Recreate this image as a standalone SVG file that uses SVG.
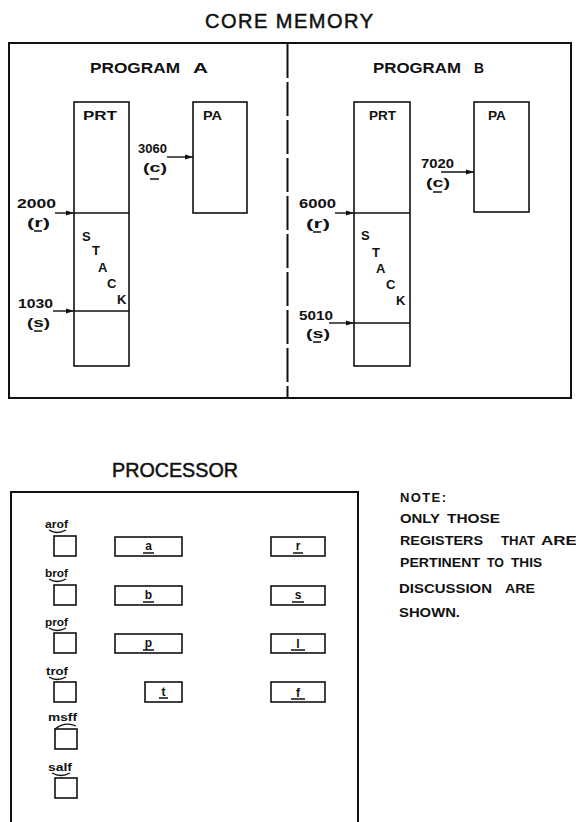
<svg xmlns="http://www.w3.org/2000/svg" width="576" height="822" viewBox="0 0 576 822">
<style>
  text { font-family: "Liberation Sans", Arial, sans-serif; fill: #111; }
  .title { font-size: 20px; stroke: #111; stroke-width: 0.5; }
  .h { font-size: 14px; font-weight: bold; }
  .lbl { font-size: 13px; font-weight: bold; }
  .num { font-size: 12px; font-weight: bold; }
  .st { font-size: 13px; font-weight: bold; }
  .flag { font-size: 11px; font-weight: bold; }
  .reg { font-size: 12px; font-weight: bold; }
  .note { font-size: 13px; font-weight: bold; }
  .box { fill: none; stroke: #111; stroke-width: 1.6; }
  .frame { fill: none; stroke: #111; stroke-width: 2; }
  .ul { stroke: #111; stroke-width: 1.5; }
  .arc { fill: none; stroke: #111; stroke-width: 1.3; }
  .conn { stroke: #111; stroke-width: 1.4; fill: none; }
</style>
<defs>
  <marker id="ah" markerUnits="userSpaceOnUse" markerWidth="8" markerHeight="6" refX="8" refY="3" orient="auto">
    <path d="M0,0.6 L8,3 L0,5.4 z" fill="#111"/>
  </marker>
</defs>
<rect width="576" height="822" fill="#fff"/>

<g id="core-memory">
  <text class="title" x="205" y="28" textLength="168" lengthAdjust="spacing">CORE MEMORY</text>
  <rect class="frame" x="9" y="43" width="562" height="355"/>
  <line x1="287.5" y1="44" x2="287.5" y2="397" stroke="#111" stroke-width="2" stroke-dasharray="34 4"/>
</g>

<g id="program-a">
  <text class="h" x="90" y="73" textLength="90" lengthAdjust="spacingAndGlyphs">PROGRAM</text>
  <text class="h" x="193" y="73" textLength="15" lengthAdjust="spacingAndGlyphs">A</text>
</g>
<g id="prt-a">
  <rect class="box" x="74" y="102" width="55" height="264"/>
  <line class="box" x1="74" y1="213" x2="129" y2="213"/>
  <line class="box" x1="74" y1="311" x2="129" y2="311"/>
  <text class="lbl" x="83" y="120" textLength="34" lengthAdjust="spacingAndGlyphs">PRT</text>
  <text class="st" x="82" y="241">S</text>
  <text class="st" x="92" y="255">T</text>
  <text class="st" x="98" y="272">A</text>
  <text class="st" x="107" y="288">C</text>
  <text class="st" x="117" y="304">K</text>
</g>
<g id="pa-a">
  <rect class="box" x="193" y="102" width="54" height="111"/>
  <text class="lbl" x="203" y="120" textLength="19" lengthAdjust="spacingAndGlyphs">PA</text>
</g>
<g id="label-a-r">
  <text class="num" x="17" y="208" textLength="39" lengthAdjust="spacingAndGlyphs">2000</text>
  <text class="num" x="27" y="227" textLength="23" lengthAdjust="spacingAndGlyphs">(r)</text>
  <line class="ul" x1="34" y1="231" x2="42" y2="231"/>
</g>
<g id="label-a-s">
  <text class="num" x="18" y="308" textLength="35" lengthAdjust="spacingAndGlyphs">1030</text>
  <text class="num" x="27" y="327" textLength="23" lengthAdjust="spacingAndGlyphs">(s)</text>
  <line class="ul" x1="34" y1="331" x2="42" y2="331"/>
</g>
<g id="label-a-c">
  <text class="num" x="138" y="153" textLength="29" lengthAdjust="spacingAndGlyphs">3060</text>
  <text class="num" x="143" y="172" textLength="24" lengthAdjust="spacingAndGlyphs">(c)</text>
  <line class="ul" x1="150" y1="179" x2="159" y2="179"/>
</g>

<g id="program-b">
  <text class="h" x="373" y="73" textLength="88" lengthAdjust="spacingAndGlyphs">PROGRAM</text>
  <text class="h" x="474" y="73" textLength="10" lengthAdjust="spacingAndGlyphs">B</text>
</g>
<g id="prt-b">
  <rect class="box" x="354" y="102" width="56" height="264"/>
  <line class="box" x1="354" y1="213" x2="410" y2="213"/>
  <line class="box" x1="354" y1="323" x2="410" y2="323"/>
  <text class="lbl" x="369" y="120" textLength="27" lengthAdjust="spacingAndGlyphs">PRT</text>
  <text class="st" x="361" y="240">S</text>
  <text class="st" x="372" y="257">T</text>
  <text class="st" x="376" y="273">A</text>
  <text class="st" x="386" y="289">C</text>
  <text class="st" x="396" y="305">K</text>
</g>
<g id="pa-b">
  <rect class="box" x="474" y="102" width="55" height="110"/>
  <text class="lbl" x="488" y="120" textLength="18" lengthAdjust="spacingAndGlyphs">PA</text>
</g>
<g id="label-b-r">
  <text class="num" x="299" y="208" textLength="37" lengthAdjust="spacingAndGlyphs">6000</text>
  <text class="num" x="306" y="228" textLength="24" lengthAdjust="spacingAndGlyphs">(r)</text>
  <line class="ul" x1="313" y1="232" x2="321" y2="232"/>
</g>
<g id="label-b-s">
  <text class="num" x="299" y="320" textLength="34" lengthAdjust="spacingAndGlyphs">5010</text>
  <text class="num" x="306" y="338" textLength="24" lengthAdjust="spacingAndGlyphs">(s)</text>
  <line class="ul" x1="313" y1="342" x2="321" y2="342"/>
</g>
<g id="label-b-c">
  <text class="num" x="421" y="168" textLength="33" lengthAdjust="spacingAndGlyphs">7020</text>
  <text class="num" x="426" y="187" textLength="24" lengthAdjust="spacingAndGlyphs">(c)</text>
  <line class="ul" x1="433" y1="192" x2="442" y2="192"/>
</g>

<g id="connectors">
  <line class="conn" x1="55" y1="213" x2="74" y2="213" marker-end="url(#ah)"/>
  <line class="conn" x1="53" y1="311" x2="74" y2="311" marker-end="url(#ah)"/>
  <line class="conn" x1="167" y1="157" x2="193" y2="157" marker-end="url(#ah)"/>
  <line class="conn" x1="335" y1="213" x2="354" y2="213" marker-end="url(#ah)"/>
  <line class="conn" x1="329" y1="323" x2="354" y2="323" marker-end="url(#ah)"/>
  <line class="conn" x1="441" y1="172" x2="474" y2="172" marker-end="url(#ah)"/>
</g>

<g id="processor">
  <text class="title" x="112" y="477" textLength="126" lengthAdjust="spacingAndGlyphs">PROCESSOR</text>
  <path class="frame" d="M11,830 V492 H358 V830"/>
</g>

<g id="flag-arof">
  <text class="flag" x="45" y="528" textLength="23" lengthAdjust="spacingAndGlyphs">arof</text>
  <path class="arc" d="M49,530 Q57,535 66,530"/>
  <rect class="box" x="54" y="536" width="22" height="20"/>
</g>
<g id="flag-brof">
  <text class="flag" x="45" y="577" textLength="23" lengthAdjust="spacingAndGlyphs">brof</text>
  <path class="arc" d="M49,579 Q57,584 66,579"/>
  <rect class="box" x="54" y="585" width="22" height="20"/>
</g>
<g id="flag-prof">
  <text class="flag" x="45" y="626" textLength="23" lengthAdjust="spacingAndGlyphs">prof</text>
  <path class="arc" d="M49,628 Q57,633 66,628"/>
  <rect class="box" x="54" y="633" width="22" height="20"/>
</g>
<g id="flag-trof">
  <text class="flag" x="46" y="675" textLength="22" lengthAdjust="spacingAndGlyphs">trof</text>
  <path class="arc" d="M49,677 Q57,682 66,677"/>
  <rect class="box" x="54" y="682" width="22" height="20"/>
</g>
<g id="flag-msff">
  <text class="flag" x="48" y="721" textLength="29" lengthAdjust="spacingAndGlyphs">msff</text>
  <path class="arc" d="M55,729 Q65,721 76,726"/>
  <rect class="box" x="55" y="729" width="22" height="20"/>
</g>
<g id="flag-salf">
  <text class="flag" x="48" y="771" textLength="24" lengthAdjust="spacingAndGlyphs">salf</text>
  <path class="arc" d="M52,773 Q61,778 70,773"/>
  <rect class="box" x="55" y="778" width="22" height="20"/>
</g>

<g id="reg-a">
  <rect class="box" x="115" y="537" width="67" height="19"/>
  <text class="reg" x="148.5" y="550" text-anchor="middle">a</text>
  <line class="ul" x1="143" y1="553" x2="154" y2="553"/>
</g>
<g id="reg-b">
  <rect class="box" x="115" y="586" width="67" height="19"/>
  <text class="reg" x="148.5" y="599" text-anchor="middle">b</text>
  <line class="ul" x1="143" y1="602" x2="154" y2="602"/>
</g>
<g id="reg-p">
  <rect class="box" x="115" y="634" width="67" height="19"/>
  <text class="reg" x="148.5" y="647" text-anchor="middle">p</text>
  <line class="ul" x1="143" y1="650" x2="154" y2="650"/>
</g>
<g id="reg-t">
  <rect class="box" x="145" y="682" width="37" height="20"/>
  <text class="reg" x="163.5" y="696" text-anchor="middle">t</text>
  <line class="ul" x1="159" y1="698" x2="168" y2="698"/>
</g>
<g id="reg-r">
  <rect class="box" x="271" y="537" width="54" height="19"/>
  <text class="reg" x="298" y="550" text-anchor="middle">r</text>
  <line class="ul" x1="293" y1="553" x2="303" y2="553"/>
</g>
<g id="reg-s">
  <rect class="box" x="271" y="586" width="54" height="19"/>
  <text class="reg" x="298" y="599" text-anchor="middle">s</text>
  <line class="ul" x1="292" y1="602" x2="304" y2="602"/>
</g>
<g id="reg-l">
  <rect class="box" x="271" y="634" width="54" height="19"/>
  <text class="reg" x="298" y="648" text-anchor="middle">l</text>
  <line class="ul" x1="291" y1="650" x2="305" y2="650"/>
</g>
<g id="reg-f">
  <rect class="box" x="271" y="682" width="54" height="20"/>
  <text class="reg" x="298" y="697" text-anchor="middle">f</text>
  <line class="ul" x1="291" y1="699" x2="305" y2="699"/>
</g>

<g id="note">
  <text class="note" x="400" y="502" textLength="46" lengthAdjust="spacing">NOTE:</text>
  <text class="note" y="523"><tspan x="400" textLength="40" lengthAdjust="spacingAndGlyphs">ONLY</tspan><tspan x="447" textLength="53" lengthAdjust="spacingAndGlyphs">THOSE</tspan></text>
  <text class="note" y="545"><tspan x="400" textLength="83" lengthAdjust="spacingAndGlyphs">REGISTERS</tspan><tspan x="501" textLength="34" lengthAdjust="spacingAndGlyphs">THAT</tspan><tspan x="541" textLength="36" lengthAdjust="spacingAndGlyphs">ARE</tspan></text>
  <text class="note" y="567"><tspan x="400" textLength="80" lengthAdjust="spacingAndGlyphs">PERTINENT</tspan><tspan x="487" textLength="17" lengthAdjust="spacingAndGlyphs">TO</tspan><tspan x="511" textLength="31" lengthAdjust="spacingAndGlyphs">THIS</tspan></text>
  <text class="note" y="593"><tspan x="399" textLength="93" lengthAdjust="spacingAndGlyphs">DISCUSSION</tspan><tspan x="505" textLength="30" lengthAdjust="spacingAndGlyphs">ARE</tspan></text>
  <text class="note" x="399" y="617" textLength="61" lengthAdjust="spacingAndGlyphs">SHOWN.</text>
</g>
</svg>
